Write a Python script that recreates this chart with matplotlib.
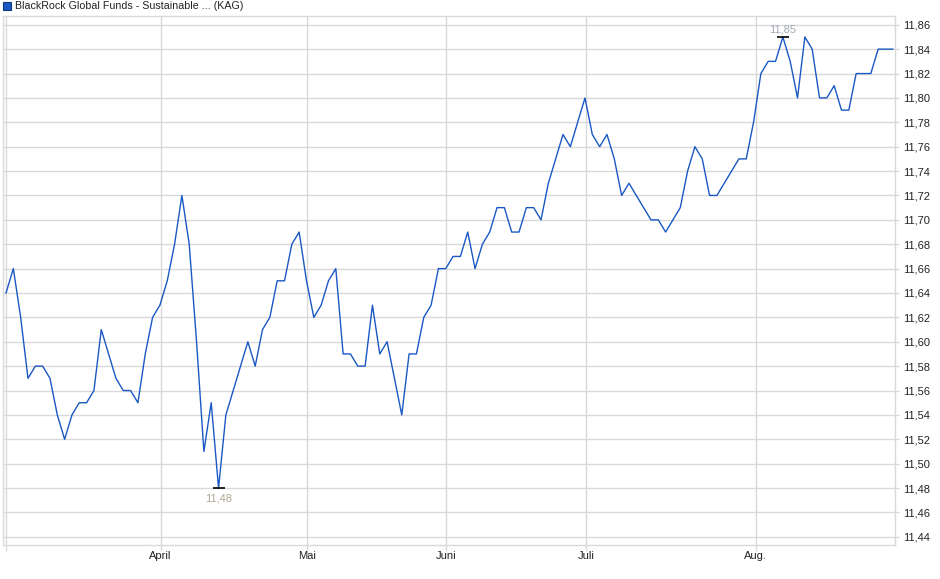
import numpy as np
from matplotlib import pyplot as plt
from matplotlib.patches import Rectangle

kurs = [11.64, 11.66, 11.62, 11.57, 11.58, 11.58, 11.57, 11.54, 11.52, 11.54,
        11.55, 11.55, 11.56, 11.61, 11.59, 11.57, 11.56, 11.56, 11.55, 11.59,
        11.62, 11.63, 11.65, 11.68, 11.72, 11.68, 11.60, 11.51, 11.55, 11.48,
        11.54, 11.56, 11.58, 11.60, 11.58, 11.61, 11.62, 11.65, 11.65, 11.68,
        11.69, 11.65, 11.62, 11.63, 11.65, 11.66, 11.59, 11.59, 11.58, 11.58,
        11.63, 11.59, 11.60, 11.57, 11.54, 11.59, 11.59, 11.62, 11.63, 11.66,
        11.66, 11.67, 11.67, 11.69, 11.66, 11.68, 11.69, 11.71, 11.71, 11.69,
        11.69, 11.71, 11.71, 11.70, 11.73, 11.75, 11.77, 11.76, 11.78, 11.80,
        11.77, 11.76, 11.77, 11.75, 11.72, 11.73, 11.72, 11.71, 11.70, 11.70,
        11.69, 11.70, 11.71, 11.74, 11.76, 11.75, 11.72, 11.72, 11.73, 11.74,
        11.75, 11.75, 11.78, 11.82, 11.83, 11.83, 11.85, 11.83, 11.80, 11.85,
        11.84, 11.80, 11.80, 11.81, 11.79, 11.79, 11.82, 11.82, 11.82, 11.84,
        11.84, 11.84]

monate = ['', 'April', 'Mai', 'Juni', 'Juli', 'Aug.']
monat_pos = [0, 21.1, 41.1, 60.1, 79.2, 102.3]
yticks = np.round(np.arange(11.44, 11.861, 0.02), 2)
titel = 'BlackRock Global Funds - Sustainable ... (KAG)'

plt.rcParams['font.family'] = ['Liberation Sans', 'DejaVu Sans']
blau = '#1a58c4'
grau = '#d9d9d9'

fig = plt.figure('Kurs', figsize=(9.4, 5.79), dpi=100)
ax = fig.add_axes((3/940, 34/579, 892/940, 529/579))

x = np.arange(len(kurs))
ax.plot(x, kurs, color=blau, lw=1.0, zorder=3)

# Hoch / Tief markieren
i_max = int(np.argmax(kurs))
i_min = int(np.argmin(kurs))
ax.plot([i_max, i_min], [kurs[i_max], kurs[i_min]], ls='none', marker='_',
        ms=9, mew=1.2, color='black', zorder=4)
ax.annotate(f'{kurs[i_max]:.2f}'.replace('.', ','), (i_max, kurs[i_max]),
            xytext=(0, 2), textcoords='offset points', ha='center', va='bottom',
            fontsize=8, color='#a3a8b3')
ax.annotate(f'{kurs[i_min]:.2f}'.replace('.', ','), (i_min, kurs[i_min]),
            xytext=(0, -4), textcoords='offset points', ha='center', va='top',
            fontsize=8, color='#b0a794')

ax.set_xlim(-0.41, 121.3)
ax.set_ylim(11.4333, 11.8672)

ax.set_xticks(monat_pos)
ax.set_xticklabels(monate, fontsize=8, color='#222222')
ax.set_yticks(yticks)
ax.set_yticklabels([f'{v:.2f}'.replace('.', ',') for v in yticks], fontsize=8, color='#222222')
ax.yaxis.tick_right()

ax.tick_params(axis='x', length=4, width=1, color=grau, pad=0)
ax.tick_params(axis='y', length=3, width=1, color=grau, pad=3)
ax.grid(True, color=grau, lw=1.0)
for s in ax.spines.values():
    s.set_color(grau)
    s.set_linewidth(1.0)

# Legende oben links
fig.patches.append(Rectangle((3/940, 1 - 9.5/579), 7.5/940, 7.5/579, transform=fig.transFigure,
                             facecolor=blau, edgecolor='#123a80', lw=0.8))
fig.text(15/940, 1 - 6/579, titel, fontsize=7.7, color='#222222', va='center', ha='left')

plt.savefig('out.png', dpi=100)
